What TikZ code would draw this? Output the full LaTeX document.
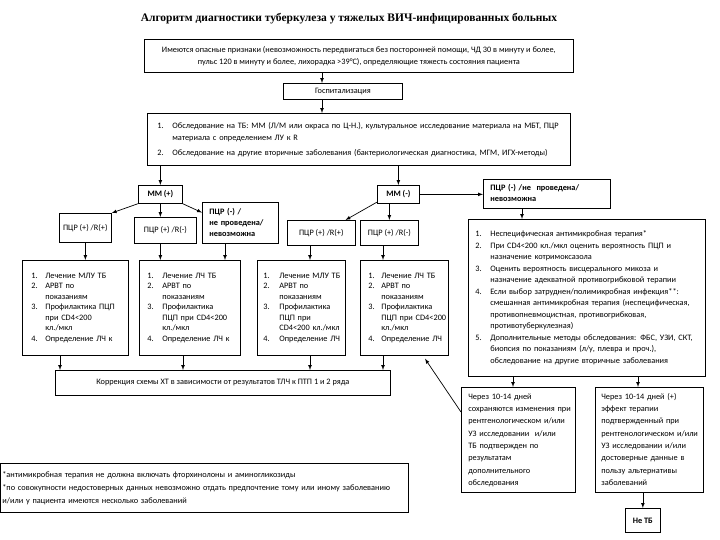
\documentclass[tikz,border=0pt]{standalone}
\usepackage{fontspec}
\setmainfont{Carlito}
\newfontfamily\titlefont{Liberation Serif}

\begin{document}
\begin{tikzpicture}[x=1pt, y=-1pt, line width=0.7pt,
    box/.style={draw, rectangle, anchor=north west, inner xsep=0pt, inner ysep=0pt,
        align=center, font=\fontsize{8.3}{10.5}\selectfont},
    lst/.style={box, align=left, inner xsep=#1},
    arr/.style={-latex}]

\useasboundingbox (0,0) rectangle (720,540);

\node[font=\titlefont\bfseries\fontsize{11.5}{12}\selectfont] (title) at (349,19)
    {Алгоритм диагностики туберкулеза у тяжелых ВИЧ-инфицированных больных};

\node[box, font=\fontsize{8.3}{12}\selectfont, minimum width=429, minimum height=33] (alarm) at (144,39)
    {Имеются опасные признаки (невозможность передвигаться без посторонней помощи, ЧД 30 в минуту и более,\\
     пульс 120 в минуту и более, лихорадка >39°C), определяющие тяжесть состояния пациента};

\node[box, minimum width=119, minimum height=16] (hosp) at (283,83) {Госпитализация};

\node[lst=10, font=\fontsize{8.3}{12}\selectfont, text width=403, minimum width=423, minimum height=52] (exam) at (147,113)
    {\begin{tabular}{@{}p{15pt}@{}l@{}}
     1. & Обследование на ТБ: ММ (Л/М или окраса по Ц-Н.), культуральное исследование материала на МБТ, ПЦР\\
        & материала с определением ЛУ к R\\[3pt]
     2. & Обследование на другие вторичные заболевания (бактериологическая диагностика, МГМ, ИГХ-методы)
     \end{tabular}};

% ветвь MM(+)
\node[box, font=\bfseries\fontsize{8.3}{10}\selectfont, minimum width=44, minimum height=18] (mmp) at (138,185) {ММ (+)};
\node[box, minimum width=52, minimum height=29] (r1) at (59,213) {ПЦР (+) /R(+)};
\node[box, minimum width=62, minimum height=26] (r2) at (134,217) {ПЦР (+) /R(-)};
\node[lst=7, font=\bfseries\fontsize{8.3}{11}\selectfont, text width=62, minimum width=76, minimum height=41] (r3) at (202,202)
    {\begin{tabular}{@{}l@{}}ПЦР (-) /\\ не проведена/\\ невозможна\end{tabular}};

% ветвь MM(-)
\node[box, font=\bfseries\fontsize{8.3}{10}\selectfont, minimum width=42, minimum height=18] (mmm) at (377,185) {ММ (-)};
\node[box, minimum width=68, minimum height=25] (r4) at (287,220) {ПЦР (+) /R(+)};
\node[box, minimum width=58, minimum height=25] (r5) at (360,220) {ПЦР (+) /R(-)};
\node[lst=7, font=\bfseries\fontsize{8.3}{11}\selectfont, text width=113, minimum width=127, minimum height=29] (r6) at (483,179)
    {\begin{tabular}{@{}l@{}}ПЦР (-) /не \ проведена/\\ невозможна\end{tabular}};

% лечение
\node[lst=9, text width=88, minimum width=106, minimum height=95] (t1) at (22,260)
    {\begin{tabular}{@{}p{14pt}@{}l@{}}
     1. & Лечение МЛУ ТБ\\ 2. & АРВТ по\\ & показаниям\\ 3. & Профилактика ПЦП\\
        & при CD4<200\\ & кл./мкл\\ 4. & Определение ЛЧ к
     \end{tabular}};
\node[lst=8, text width=85, minimum width=101, minimum height=95] (t2) at (139,260)
    {\begin{tabular}{@{}p{15pt}@{}l@{}}
     1. & Лечение ЛЧ ТБ\\ 2. & АРВТ по\\ & показаниям\\ 3. & Профилактика\\
        & ПЦП при CD4<200\\ & кл./мкл\\ 4. & Определение ЛЧ к
     \end{tabular}};
\node[lst=6, text width=76, minimum width=88, minimum height=95] (t3) at (257,260)
    {\begin{tabular}{@{}p{16pt}@{}l@{}}
     1. & Лечение МЛУ ТБ\\ 2. & АРВТ по\\ & показаниям\\ 3. & Профилактика\\
        & ПЦП при\\ & CD4<200 кл./мкл\\ 4. & Определение ЛЧ
     \end{tabular}};
\node[lst=8, text width=72, minimum width=88, minimum height=95] (t4) at (360,260)
    {\begin{tabular}{@{}p{13pt}@{}l@{}}
     1. & Лечение ЛЧ ТБ\\ 2. & АРВТ по\\ & показаниям\\ 3. & Профилактика\\
        & ПЦП при CD4<200\\ & кл./мкл\\ 4. & Определение ЛЧ
     \end{tabular}};

\node[box, minimum width=335, minimum height=25] (corr) at (55,370)
    {Коррекция схемы ХТ в зависимости от результатов ТЛЧ к ПТП 1 и 2 ряда};

\node[lst=7, font=\fontsize{8.3}{11.5}\selectfont, text width=223, minimum width=237, minimum height=157] (big) at (468,219)
    {\begin{tabular}{@{}p{15pt}@{}l@{}}
     1. & Неспецифическая антимикробная терапия*\\
     2. & При CD4<200 кл./мкл оценить вероятность ПЦП и\\
        & назначение котримоксазола\\
     3. & Оценить вероятность висцерального микоза и\\
        & назначение адекватной противогрибковой терапии\\
     4. & Если выбор затруднен/полимикробная инфекция**:\\
        & смешанная антимикробная терапия (неспецифическая,\\
        & противопневмоцистная, противогрибковая,\\
        & противотуберкулезная)\\
     5. & Дополнительные методы обследования: ФБС, УЗИ, СКТ,\\
        & биопсия по показаниям (л/у, плевра и проч.),\\
        & обследование на другие вторичные заболевания
     \end{tabular}};

\node[lst=7, font=\fontsize{8.3}{12.3}\selectfont, text width=100, minimum width=114, minimum height=105] (res1) at (461,387)
    {\begin{tabular}{@{}l@{}}Через 10-14 дней\\ сохраняются изменения при\\ рентгенологическом и/или\\ УЗ исследовании \ и/или\\
     ТБ подтвержден по\\ результатам\\ дополнительного\\ обследования\end{tabular}};
\node[lst=6, font=\fontsize{8.3}{12.3}\selectfont, text width=96, minimum width=108, minimum height=105] (res2) at (595,387)
    {\begin{tabular}{@{}l@{}}Через 10-14 дней (+)\\ эффект терапии\\ подтвержденный при\\ рентгенологическом и/или\\
     УЗ исследовании и/или\\ достоверные данные в\\ пользу альтернативы\\ заболеваний\end{tabular}};

\node[box, font=\bfseries\fontsize{8.3}{10}\selectfont, minimum width=35, minimum height=24] (nott) at (625,508) {Не ТБ};

\node[lst=2, font=\fontsize{8.3}{13}\selectfont, text width=404, minimum width=408, minimum height=49] (foot) at (0,463)
    {\begin{tabular}{@{}l@{}}*антимикробная терапия не должна включать фторхинолоны и аминогликозиды\\
     **по совокупности недостоверных данных невозможно отдать предпочтение тому или иному заболеванию\\
     и/или у пациента имеются несколько заболеваний\end{tabular}};

% линии
\coordinate (c1) at (322,0);
\coordinate (c2) at (225,0);
\coordinate (c3) at (310,0);
\coordinate (c4) at (383,0);
\coordinate (c5) at (522,0);
\coordinate (c6) at (60,0);
\coordinate (c7) at (183,0);
\coordinate (c8) at (513,0);
\coordinate (c9) at (638,0);

\draw[arr] (alarm.south -| c1) -- (hosp.north -| c1);
\draw[arr] (hosp.south -| c1) -- (exam.north -| c1);
\draw[arr] (exam.south -| mmp) -- (mmp.north);
\draw[arr] (exam.south -| mmm) -- (mmm.north);

\draw[arr] (mmp.south west) -- (r1.north east);
\draw[arr] (mmp.south) -- (mmp.south |- r2.north);
\draw[arr] (mmp.south east) -- (r3.165);

\draw[arr] (mmm.200) -- (r4.28);
\draw[arr] (mmm.south -| r5.north) -- (r5.north);
\draw[arr] (mmm.east) -- (r6.west |- mmm.east);

\draw[arr] (r1.south) -- (r1.south |- t1.north);
\draw[arr] (r2.south -| mmp) -- (t2.north -| mmp);
\draw[arr] (r3.south -| c2) -- (t2.north -| c2);
\draw[arr] (r4.south -| c3) -- (t3.north -| c3);
\draw[arr] (r5.south -| c4) -- (t4.north -| c4);
\draw[arr] (r6.south -| c5) -- (big.north -| c5);

\draw[arr] (t1.south -| c6) -- (corr.north -| c6);
\draw[arr] (t2.south -| c7) -- (corr.north -| c7);
\draw[arr] (t3.south -| c3) -- (corr.north -| c3);
\draw[arr] (t4.south -| c4) -- (corr.north -| c4);

\draw[arr] (big.south -| c8) -- (res1.north -| c8);
\draw[arr] (big.south -| c9) -- (res2.north -| c9);
\draw[arr] (res2.south -| nott) -- (nott.north);
\draw[arr] ([yshift=-25pt]res1.north west) -- ([xshift=65pt,yshift=-3pt]t4.south west);

\end{tikzpicture}
\end{document}
